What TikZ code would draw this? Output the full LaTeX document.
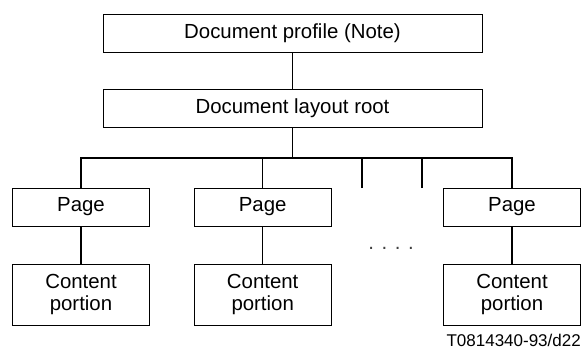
\documentclass[tikz,border=0pt]{standalone}
\usepackage{fontspec}
\setmainfont{Liberation Sans}
\begin{document}
\begin{tikzpicture}[x=1pt,y=-1pt,
  box/.style={draw, line width=0.9pt, inner sep=0pt, font=\fontsize{20.4}{22.3}\selectfont, align=center},
  wide/.style={box, minimum width=379pt, minimum height=38pt},
  pagebox/.style={box, minimum width=136.5pt, minimum height=38pt},
  contbox/.style={box, minimum width=136.5pt, minimum height=61pt},
  conn/.style={line width=1.2pt}]
\useasboundingbox (0,0) rectangle (583,350);
\node[wide] (prof) at (292.5,33) {Document profile (Note)};
\node[wide] (root) at (292.5,108) {Document layout root};
\node[pagebox] (p1) at (81,207) {Page};
\node[pagebox] (p2) at (262.7,207) {Page};
\node[pagebox] (p3) at (512,207) {Page};
\node[contbox] (c1) at (81,294.5) {Content\\portion};
\node[contbox] (c2) at (262.7,294.5) {Content\\portion};
\node[contbox] (c3) at (512,294.5) {Content\\portion};
\coordinate (bus) at (292.5,158);
\coordinate (s1) at (362,188);
\coordinate (s2) at (422,188);
\draw[conn] (prof.south) -- (root.north);
\draw[conn] (root.south) -- (bus);
\draw[conn] (p1.north) |- (bus) -| (p3.north);
\draw[conn] (p2.north) -- (p2.north |- bus);
\draw[conn] (s1) -- (s1 |- bus);
\draw[conn] (s2) -- (s2 |- bus);
\draw[conn] (p1.south) -- (c1.north);
\draw[conn] (p2.south) -- (c2.north);
\draw[conn] (p3.south) -- (c3.north);
\node[anchor=base, inner sep=0pt, text=black!75, font=\fontsize{20.4}{22}\selectfont] (dots) at (391,249.5) {. . . .};
\node[anchor=base east, inner sep=0pt, font=\fontsize{17}{19}\selectfont] (lbl) at (581,346) {T0814340-93/d22};
\end{tikzpicture}
\end{document}
